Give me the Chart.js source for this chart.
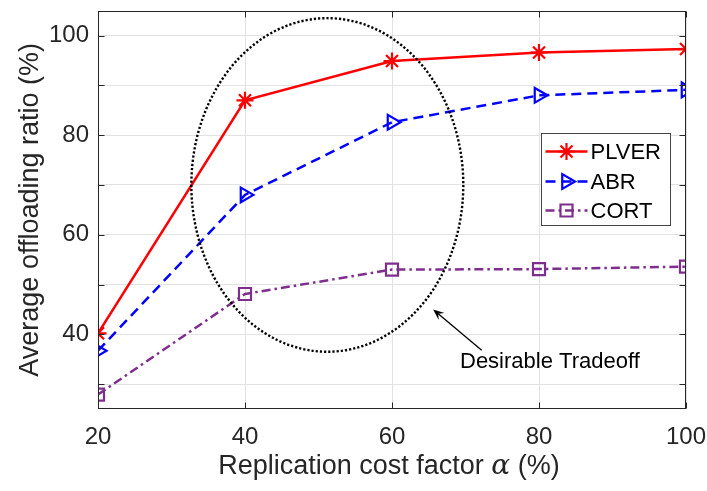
<!DOCTYPE html>
<html>
<head>
<meta charset="utf-8">
<script src="https://cdn.jsdelivr.net/npm/chart.js@4/dist/chart.umd.min.js"></script>
<style>
  html, body { margin: 0; padding: 0; background: #fff; }
  #wrap { width: 707px; height: 491px; }
</style>
</head>
<body>
<div id="wrap"><canvas id="c" width="707" height="491"></canvas></div>
<script>
// Average offloading ratio (%) against replication cost factor alpha (%)
const costFactor = [20, 40, 60, 80, 100];
const plver = [40.2, 87.0, 94.9, 96.6, 97.3];
const abr   = [36.7, 68.0, 82.6, 88.0, 89.1];
const cort  = [27.9, 48.1, 53.0, 53.1, 53.6];
const seriesNames = ['PLVER', 'ABR', 'CORT'];

const xTicks = [20, 40, 60, 80, 100];
const yTicks = [30, 40, 50, 60, 70, 80, 90, 100];
const yLabelled = [40, 60, 80, 100];

// Dotted ellipse around the tradeoff region, in data units
const tradeoffCenter = [51.2, 70];
const tradeoffRadii = [18.5, 33.5];
// Callout text and its arrow, in data units
const noteText = 'Desirable Tradeoff';
const notePos = [69.25, 34.45];
const arrowFrom = [72.2, 36.8];
const arrowTo = [65.6, 45.0];

const FONT = "'Liberation Sans', Arial, Helvetica, sans-serif";
const AXIS_COLOR = '#262626';

function pairs(ys) { return costFactor.map((x, i) => ({ x, y: ys[i] })); }

const seriesStyles = [
  { color: '#ff0000', dash: [], marker: 'star', rot: 0, r: 8.5 },
  { color: '#0000ff', dash: [10, 6], marker: 'triangle', rot: 90, r: 8.5 },
  { color: '#7e2f8e', dash: [9, 4, 2.5, 4], marker: 'rect', rot: 0, r: 8.5 }
];
const seriesValues = [plver, abr, cort];

const datasets = seriesValues.map((vals, i) => {
  const s = seriesStyles[i];
  return {
    label: seriesNames[i],
    data: pairs(vals),
    borderColor: s.color,
    borderWidth: 2.5,
    borderDash: s.dash,
    pointStyle: s.marker,
    pointRotation: s.rot,
    pointRadius: s.r,
    pointBorderWidth: 2.2,
    pointBorderColor: s.color,
    pointBackgroundColor: 'rgba(0,0,0,0)',
    tension: 0,
    fill: false
  };
});

function drawMarker(ctx, style, x, y, r, rot, color) {
  ctx.save();
  ctx.strokeStyle = color;
  ctx.fillStyle = 'rgba(0,0,0,0)';
  ctx.lineWidth = 2.2;
  ctx.setLineDash([]);
  if (Chart.helpers && Chart.helpers.drawPoint) {
    Chart.helpers.drawPoint(ctx, { pointStyle: style, rotation: rot, radius: r, borderWidth: 2.2 }, x, y);
  }
  ctx.restore();
}

const decorations = {
  id: 'decorations',
  afterDatasetsDraw(chart) {
    const { ctx, scales: { x, y } } = chart;
    // dotted ellipse
    const cx = x.getPixelForValue(tradeoffCenter[0]);
    const cy = y.getPixelForValue(tradeoffCenter[1]);
    const rx = Math.abs(x.getPixelForValue(tradeoffCenter[0] + tradeoffRadii[0]) - cx);
    const ry = Math.abs(y.getPixelForValue(tradeoffCenter[1] + tradeoffRadii[1]) - cy);
    ctx.save();
    ctx.strokeStyle = '#000';
    ctx.lineWidth = 2.4;
    ctx.setLineDash([2.2, 2]);
    ctx.beginPath();
    ctx.ellipse(cx, cy, rx, ry, 0, 0, Math.PI * 2);
    ctx.stroke();
    ctx.restore();
  },
  afterDraw(chart) {
    const { ctx, chartArea: a, scales: { x, y } } = chart;
    ctx.save();
    // axes box with inward tick marks
    ctx.strokeStyle = AXIS_COLOR;
    ctx.lineWidth = 1;
    ctx.setLineDash([]);
    const L = Math.round(a.left) + 0.5, R = Math.round(a.right) - 0.5;
    const T = Math.round(a.top) + 0.5, B = Math.round(a.bottom) - 0.5;
    ctx.strokeRect(L, T, R - L, B - T);
    const tk = 6;
    ctx.beginPath();
    xTicks.forEach(v => {
      const px = Math.round(x.getPixelForValue(v)) + 0.5;
      ctx.moveTo(px, B); ctx.lineTo(px, B - tk);
      ctx.moveTo(px, T); ctx.lineTo(px, T + tk);
    });
    yTicks.forEach(v => {
      const py = Math.round(y.getPixelForValue(v)) + 0.5;
      ctx.moveTo(L, py); ctx.lineTo(L + tk, py);
      ctx.moveTo(R, py); ctx.lineTo(R - tk, py);
    });
    ctx.stroke();

    // x-axis title with italic alpha
    ctx.fillStyle = AXIS_COLOR;
    ctx.textBaseline = 'alphabetic';
    const partA = 'Replication cost factor ';
    const partB = '\u03b1';
    const partC = ' (%)';
    const f1 = '27px ' + FONT;
    const f2 = 'italic 28px "DejaVu Serif", "Liberation Serif", serif';
    ctx.font = f1; const wA = ctx.measureText(partA).width; const wC = ctx.measureText(partC).width;
    ctx.font = f2; const wB = ctx.measureText(partB).width;
    const total = wA + wB + wC;
    let tx = (a.left + a.right) / 2 - 3 - total / 2;
    const ty = 474;
    ctx.textAlign = 'left';
    ctx.font = f1; ctx.fillText(partA, tx, ty); tx += wA;
    ctx.font = f2; ctx.fillText(partB, tx, ty); tx += wB;
    ctx.font = f1; ctx.fillText(partC, tx, ty);

    // callout arrow and text
    const ax0 = x.getPixelForValue(arrowFrom[0]), ay0 = y.getPixelForValue(arrowFrom[1]);
    const ax1 = x.getPixelForValue(arrowTo[0]), ay1 = y.getPixelForValue(arrowTo[1]);
    const ang = Math.atan2(ay1 - ay0, ax1 - ax0);
    const hl = 11, hw = 4.5;
    ctx.strokeStyle = '#000';
    ctx.fillStyle = '#000';
    ctx.lineWidth = 1.3;
    ctx.beginPath();
    ctx.moveTo(ax0, ay0);
    ctx.lineTo(ax1 - Math.cos(ang) * hl * 0.6, ay1 - Math.sin(ang) * hl * 0.6);
    ctx.stroke();
    ctx.beginPath();
    ctx.moveTo(ax1, ay1);
    ctx.lineTo(ax1 - Math.cos(ang) * hl - Math.sin(ang) * hw, ay1 - Math.sin(ang) * hl + Math.cos(ang) * hw);
    ctx.lineTo(ax1 - Math.cos(ang) * hl * 0.6, ay1 - Math.sin(ang) * hl * 0.6);
    ctx.lineTo(ax1 - Math.cos(ang) * hl + Math.sin(ang) * hw, ay1 - Math.sin(ang) * hl - Math.cos(ang) * hw);
    ctx.closePath();
    ctx.fill();
    ctx.font = '22px ' + FONT;
    ctx.fillStyle = '#000';
    ctx.textAlign = 'left';
    ctx.textBaseline = 'middle';
    ctx.fillText(noteText, x.getPixelForValue(notePos[0]), y.getPixelForValue(notePos[1]));

    // legend box
    const bw = 129, bh = 92;
    const bx = Math.round(a.right) - 16 - bw + 0.5;
    const by = Math.round(a.top) + 122 + 0.5;
    ctx.fillStyle = '#fff';
    ctx.fillRect(bx, by, bw, bh);
    ctx.strokeStyle = '#444';
    ctx.lineWidth = 1;
    ctx.strokeRect(bx, by, bw, bh);
    const rowY = [18, 48, 77];
    chart.data.datasets.forEach((ds, i) => {
      const ry = by + rowY[i];
      ctx.save();
      ctx.strokeStyle = ds.borderColor;
      ctx.lineWidth = 2.5;
      ctx.setLineDash(ds.borderDash || []);
      ctx.beginPath();
      ctx.moveTo(bx + 4, ry);
      ctx.lineTo(bx + 46, ry);
      ctx.stroke();
      ctx.restore();
      drawMarker(ctx, ds.pointStyle, bx + 25, ry, ds.pointRadius, ds.pointRotation, ds.borderColor);
      ctx.fillStyle = '#000';
      ctx.font = '22px ' + FONT;
      ctx.textAlign = 'left';
      ctx.textBaseline = 'middle';
      ctx.fillText(ds.label, bx + 49, ry + 1);
    });
    ctx.restore();
  }
};

new Chart(document.getElementById('c'), {
  type: 'line',
  data: { datasets },
  options: {
    responsive: false,
    animation: false,
    devicePixelRatio: 1,
    layout: { padding: { left: 0, right: 21, top: 10, bottom: 0 } },
    plugins: {
      legend: { display: false },
      tooltip: { enabled: false }
    },
    scales: {
      x: {
        type: 'linear',
        min: 20,
        max: 100,
        offset: false,
        afterBuildTicks: s => { s.ticks = xTicks.map(v => ({ value: v })); },
        afterFit: s => { s.height = 82; s.paddingLeft = 0; s.paddingRight = 0; },
        grid: { color: '#e2e2e2', lineWidth: 1, drawTicks: false },
        border: { display: false },
        ticks: {
          padding: 14,
          color: AXIS_COLOR,
          font: { family: FONT, size: 24 },
          maxRotation: 0,
          callback: v => String(v)
        }
      },
      y: {
        type: 'linear',
        min: 25,
        max: 105,
        afterBuildTicks: s => { s.ticks = yTicks.map(v => ({ value: v })); },
        afterFit: s => { s.width = 98; s.paddingTop = 0; s.paddingBottom = 0; },
        grid: { color: '#e2e2e2', lineWidth: 1, drawTicks: false },
        border: { display: false },
        ticks: {
          padding: 9,
          color: AXIS_COLOR,
          font: { family: FONT, size: 24 },
          callback: v => (yLabelled.includes(v) ? String(v) : '')
        },
        title: {
          display: true,
          text: 'Average offloading ratio (%)',
          color: AXIS_COLOR,
          font: { family: FONT, size: 27 },
          padding: { top: 14, bottom: 0 }
        }
      }
    }
  },
  plugins: [decorations]
});
</script>
</body>
</html>
